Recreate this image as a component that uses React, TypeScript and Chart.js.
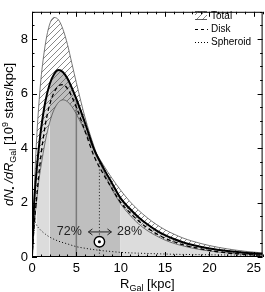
import React, { useEffect, useRef } from 'react';
import { Chart, registerables } from 'chart.js';
Chart.register(...registerables);

// Galactocentric radius grid [kpc]
const radiusKpc = [0, 0.25, 0.5, 0.75, 1, 1.5, 2, 2.5, 3, 3.5, 4, 4.5, 5, 6, 7, 8, 9, 10, 11, 12, 13, 14, 15, 16, 17, 18, 20, 22, 24, 26];
// dN*/dR [1e9 stars/kpc]
const totalMedian = [0, 2.0, 3.1, 3.95, 4.65, 5.7, 6.35, 6.72, 6.86, 6.78, 6.55, 6.2, 5.8, 4.9, 3.95, 3.3, 2.72, 2.15, 1.78, 1.46, 1.2, 0.98, 0.8, 0.66, 0.54, 0.45, 0.31, 0.22, 0.16, 0.12];
const totalUpper = [0, 2.4, 4.2, 5.5, 6.5, 7.8, 8.55, 8.79, 8.7, 8.35, 7.8, 7.1, 6.4, 5.1, 4.05, 3.2, 2.5, 1.95, 1.55, 1.22, 0.97, 0.78, 0.62, 0.5, 0.41, 0.33, 0.22, 0.15, 0.1, 0.07];
const totalLower = [0, 1.1, 2.0, 2.75, 3.3, 4.25, 4.95, 5.42, 5.68, 5.77, 5.7, 5.52, 5.25, 4.6, 3.95, 3.4, 2.9, 2.45, 2.05, 1.72, 1.44, 1.2, 1.0, 0.84, 0.7, 0.59, 0.42, 0.3, 0.21, 0.15];
const diskMedian = [0, 1.2, 2.1, 2.95, 3.7, 4.85, 5.6, 6.05, 6.28, 6.33, 6.18, 5.88, 5.5, 4.6, 3.7, 3.07, 2.52, 2.0, 1.64, 1.33, 1.07, 0.86, 0.69, 0.56, 0.45, 0.37, 0.24, 0.15, 0.1, 0.06];
const spheroidRadius = [0.35, 0.5, 1, 1.5, 2, 3, 4, 5, 6, 7, 8, 9, 10, 12, 14, 16, 18, 20, 22, 24, 26];
const spheroidMedian = [1.3, 1.18, 0.98, 0.84, 0.73, 0.58, 0.48, 0.38, 0.32, 0.27, 0.23, 0.2, 0.17, 0.14, 0.12, 0.1, 0.09, 0.08, 0.075, 0.07, 0.065];

const xTickValues = [0, 5, 10, 15, 20, 25];
const yTickValues = [0, 2, 4, 6, 8];
const shadeEdges = [0.5, 2, 10, 26];
const shadeColors = ['#dcdcdc', '#bfbfbf', '#dcdcdc'];
const halfMassRadius = 5;
const halfMassTop = 5.8;
const sunRadius = 7.6;
const sunLineTop = 3.5;
const sunMarkerY = 0.56;
const innerLabel = '72%';
const outerLabel = '28%';
const innerLabelX = 4.2;
const outerLabelX = 11.0;
const shareLabelY = 0.92;
const legendLabels = ['Total', 'Disk', 'Spheroid'];

const FONT = '"Liberation Sans", Arial, sans-serif';

const pts = (xs: number[], ys: number[]) => xs.map((x, i) => ({ x, y: ys[i] }));

function makeHatch(ctxRef: CanvasRenderingContext2D) {
  const c = document.createElement('canvas');
  const s = 6;
  c.width = s;
  c.height = s;
  const g = c.getContext('2d')!;
  g.strokeStyle = '#555';
  g.lineWidth = 0.7;
  g.beginPath();
  g.moveTo(0, s);
  g.lineTo(s, 0);
  g.moveTo(-1, 1);
  g.lineTo(1, -1);
  g.moveTo(s - 1, s + 1);
  g.lineTo(s + 1, s - 1);
  g.stroke();
  return ctxRef.createPattern(c, 'repeat')!;
}

function drawRuns(ctx: CanvasRenderingContext2D, runs: { t: string; f: string; dy?: number }[], cx: number, cy: number) {
  let total = 0;
  for (const r of runs) {
    ctx.font = r.f;
    total += ctx.measureText(r.t).width;
  }
  let xx = cx - total / 2;
  ctx.textAlign = 'left';
  for (const r of runs) {
    ctx.font = r.f;
    ctx.fillText(r.t, xx, cy + (r.dy || 0));
    xx += ctx.measureText(r.t).width;
  }
}

function arrowHead(ctx: CanvasRenderingContext2D, x: number, y: number, dir: number) {
  ctx.beginPath();
  ctx.moveTo(x + dir * 4, y - 3);
  ctx.lineTo(x, y);
  ctx.lineTo(x + dir * 4, y + 3);
  ctx.stroke();
}

const decor = {
  id: 'decor',
  afterDraw(chart: any) {
    const { ctx, chartArea: a } = chart;
    const x = chart.scales.x;
    const y = chart.scales.y;
    ctx.save();
    ctx.strokeStyle = '#000';
    ctx.lineWidth = 1;
    ctx.setLineDash([]);
    ctx.strokeRect(a.left + 0.5, a.top + 0.5, a.right - a.left - 1, a.bottom - a.top - 1);
    ctx.beginPath();
    for (let v = 0; v <= 26; v += 1) {
      const px = Math.round(x.getPixelForValue(v)) + 0.5;
      const L = v % 5 === 0 ? 5 : 2.5;
      ctx.moveTo(px, a.bottom);
      ctx.lineTo(px, a.bottom - L);
      ctx.moveTo(px, a.top);
      ctx.lineTo(px, a.top + L);
    }
    for (let v = 0; v <= 9; v += 0.5) {
      const py = Math.round(y.getPixelForValue(v)) + 0.5;
      const L = v % 2 === 0 ? 5 : 2.5;
      ctx.moveTo(a.left, py);
      ctx.lineTo(a.left + L, py);
      ctx.moveTo(a.right, py);
      ctx.lineTo(a.right - L, py);
    }
    ctx.stroke();

    // share labels and arrows
    ctx.fillStyle = '#222';
    ctx.font = `12.5px ${FONT}`;
    ctx.textAlign = 'center';
    ctx.textBaseline = 'middle';
    const ly = y.getPixelForValue(shareLabelY);
    ctx.fillText(innerLabel, x.getPixelForValue(innerLabelX), ly);
    ctx.fillText(outerLabel, x.getPixelForValue(outerLabelX), ly);
    const sx = x.getPixelForValue(sunRadius);
    ctx.strokeStyle = '#222';
    ctx.lineWidth = 1;
    ctx.beginPath();
    ctx.moveTo(sx - 11, ly);
    ctx.lineTo(sx + 12, ly);
    ctx.stroke();
    arrowHead(ctx, sx - 11, ly, 1);
    arrowHead(ctx, sx + 12, ly, -1);

    // sun symbol
    const sy = y.getPixelForValue(sunMarkerY);
    ctx.beginPath();
    ctx.arc(sx, sy, 5.2, 0, Math.PI * 2);
    ctx.fillStyle = '#fff';
    ctx.fill();
    ctx.lineWidth = 1.4;
    ctx.strokeStyle = '#000';
    ctx.stroke();
    ctx.beginPath();
    ctx.arc(sx, sy, 1.5, 0, Math.PI * 2);
    ctx.fillStyle = '#000';
    ctx.fill();

    // legend
    const hatch = (chart as any).$hatch;
    ctx.fillStyle = hatch;
    ctx.fillRect(195, 11, 12, 9);
    ctx.strokeStyle = '#333';
    ctx.lineWidth = 0.8;
    ctx.beginPath();
    ctx.moveTo(195, 11.5);
    ctx.lineTo(207, 11.5);
    ctx.moveTo(195, 19.5);
    ctx.lineTo(207, 19.5);
    ctx.stroke();
    ctx.strokeStyle = '#000';
    ctx.lineWidth = 1.2;
    ctx.setLineDash([3, 3]);
    ctx.beginPath();
    ctx.moveTo(195, 29.5);
    ctx.lineTo(208, 29.5);
    ctx.stroke();
    ctx.lineWidth = 1;
    ctx.setLineDash([1, 2]);
    ctx.beginPath();
    ctx.moveTo(195, 42.5);
    ctx.lineTo(208, 42.5);
    ctx.stroke();
    ctx.setLineDash([]);
    ctx.fillStyle = '#000';
    ctx.font = `10px ${FONT}`;
    ctx.textAlign = 'left';
    ctx.textBaseline = 'middle';
    legendLabels.forEach((t, i) => ctx.fillText(t, 211, 16 + i * 13.3));

    // axis titles
    ctx.textBaseline = 'alphabetic';
    const big = `13px ${FONT}`;
    const small = `9px ${FONT}`;
    drawRuns(ctx, [
      { t: 'R', f: big },
      { t: 'Gal', f: small, dy: 3 },
      { t: ' [kpc]', f: big },
    ], (a.left + a.right) / 2, 288);

    ctx.save();
    ctx.translate(13, (a.top + a.bottom) / 2);
    ctx.rotate(-Math.PI / 2);
    const it = `italic 13px ${FONT}`;
    drawRuns(ctx, [
      { t: 'dN', f: it },
      { t: '•', f: `8px ${FONT}`, dy: 2 },
      { t: ' /dR', f: it },
      { t: 'Gal', f: small, dy: 3 },
      { t: ' [10', f: big },
      { t: '9', f: small, dy: -5 },
      { t: ' stars/kpc]', f: big },
    ], 0, 0);
    ctx.restore();
    ctx.restore();
  },
};

export default function App() {
  const ref = useRef<HTMLCanvasElement>(null);
  useEffect(() => {
    const canvas = ref.current!;
    const ctx2 = canvas.getContext('2d')!;
    const hatch = makeHatch(ctx2);
    const full = pts(radiusKpc, totalMedian);
    const shadeSets = shadeColors.map((c, i) => ({
      data: full.filter((p) => p.x >= shadeEdges[i] && p.x <= shadeEdges[i + 1]),
      borderWidth: 0,
      borderColor: 'rgba(0,0,0,0)',
      backgroundColor: c,
      fill: 'origin',
      order: 20,
    }));
    const common = { pointRadius: 0, cubicInterpolationMode: 'monotone' as const };
    const datasets: any[] = [
      ...shadeSets,
      {
        data: [{ x: halfMassRadius, y: 0 }, { x: halfMassRadius, y: halfMassTop }],
        borderColor: '#7a7a7a', borderWidth: 1.5, fill: false, order: 15, cubicInterpolationMode: 'default',
      },
      {
        data: [{ x: sunRadius, y: 0 }, { x: sunRadius, y: sunLineTop }],
        borderColor: '#333', borderWidth: 1, borderDash: [1.2, 2], fill: false, order: 15, cubicInterpolationMode: 'default',
      },
      {
        data: pts(radiusKpc, totalUpper),
        borderColor: '#555', borderWidth: 0.8, backgroundColor: hatch, fill: '+1', order: 10,
      },
      {
        data: pts(radiusKpc, totalLower),
        borderColor: '#555', borderWidth: 0.8, fill: false, order: 10,
      },
      {
        data: pts(radiusKpc, diskMedian),
        borderColor: '#000', borderWidth: 1.3, borderDash: [4, 3], fill: false, order: 5,
      },
      {
        data: pts(spheroidRadius, spheroidMedian),
        borderColor: '#000', borderWidth: 1, borderDash: [1, 2.2], fill: false, order: 4,
      },
      {
        data: full,
        borderColor: '#000', borderWidth: 2, fill: false, order: 1,
      },
    ].map((d) => ({ ...common, ...d }));

    const chart = new Chart(canvas, {
      type: 'line',
      data: { datasets },
      options: {
        animation: false,
        responsive: false,
        devicePixelRatio: 1,
        layout: { padding: { top: 1, right: 1, left: 0, bottom: 0 } },
        plugins: { legend: { display: false }, tooltip: { enabled: false } },
        scales: {
          x: {
            type: 'linear', min: 0, max: 26,
            grid: { display: false, drawTicks: false },
            border: { display: false },
            afterBuildTicks: (s: any) => { s.ticks = xTickValues.map((v) => ({ value: v })); },
            afterFit: (s: any) => { s.height = 35; },
            ticks: { font: { family: FONT, size: 13 }, color: '#000', padding: 4, maxRotation: 0, autoSkip: false },
          },
          y: {
            type: 'linear', min: 0, max: 9,
            grid: { display: false, drawTicks: false },
            border: { display: false },
            afterBuildTicks: (s: any) => { s.ticks = yTickValues.map((v) => ({ value: v })); },
            afterFit: (s: any) => { s.width = 32; },
            ticks: { font: { family: FONT, size: 13 }, color: '#000', padding: 4, autoSkip: false },
          },
        },
      },
      plugins: [decor],
    });
    (chart as any).$hatch = hatch;
    chart.draw();
    return () => chart.destroy();
  }, []);
  return (
    <div style={{ position: 'fixed', left: 0, top: 0, width: 265, height: 292, background: '#fff' }}>
      <canvas ref={ref} width={265} height={292} style={{ width: 265, height: 292, display: 'block' }} />
    </div>
  );
}
